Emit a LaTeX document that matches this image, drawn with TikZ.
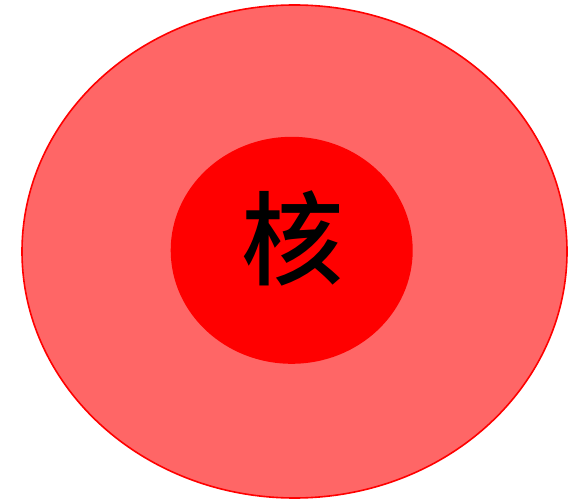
\documentclass[tikz,border=0pt]{standalone}
\usepackage{fontspec}
\newfontfamily\cjk{Noto Sans CJK SC}[BoldFont={Noto Sans CJK SC Medium}]
\usetikzlibrary{shapes.geometric, positioning}
\definecolor{cellred}{HTML}{FF6666}
\definecolor{corered}{HTML}{FF0000}

\begin{document}
\begin{tikzpicture}[
  x=1pt, y=-1pt,
  blob/.style={ellipse, inner sep=0pt},
  cellbody/.style={blob, draw=corered, line width=1.6pt, fill=cellred,
    minimum width=545pt, minimum height=493pt},
  corebody/.style={blob, fill=corered,
    minimum width=242pt, minimum height=227pt},
  bigchar/.style={inner sep=0pt, text=black,
    font=\cjk\bfseries\fontsize{102}{102}\selectfont},
]

\useasboundingbox (0,0) rectangle (580,502);

% Cell and its nucleus
\node[cellbody] (cell) at (294.5,251.5) {};
\node[corebody] (nucleus) at (291.7,250.3) {};

% Label
\node[bigchar] (corelabel) at (292,238) {核};

\end{tikzpicture}
\end{document}
